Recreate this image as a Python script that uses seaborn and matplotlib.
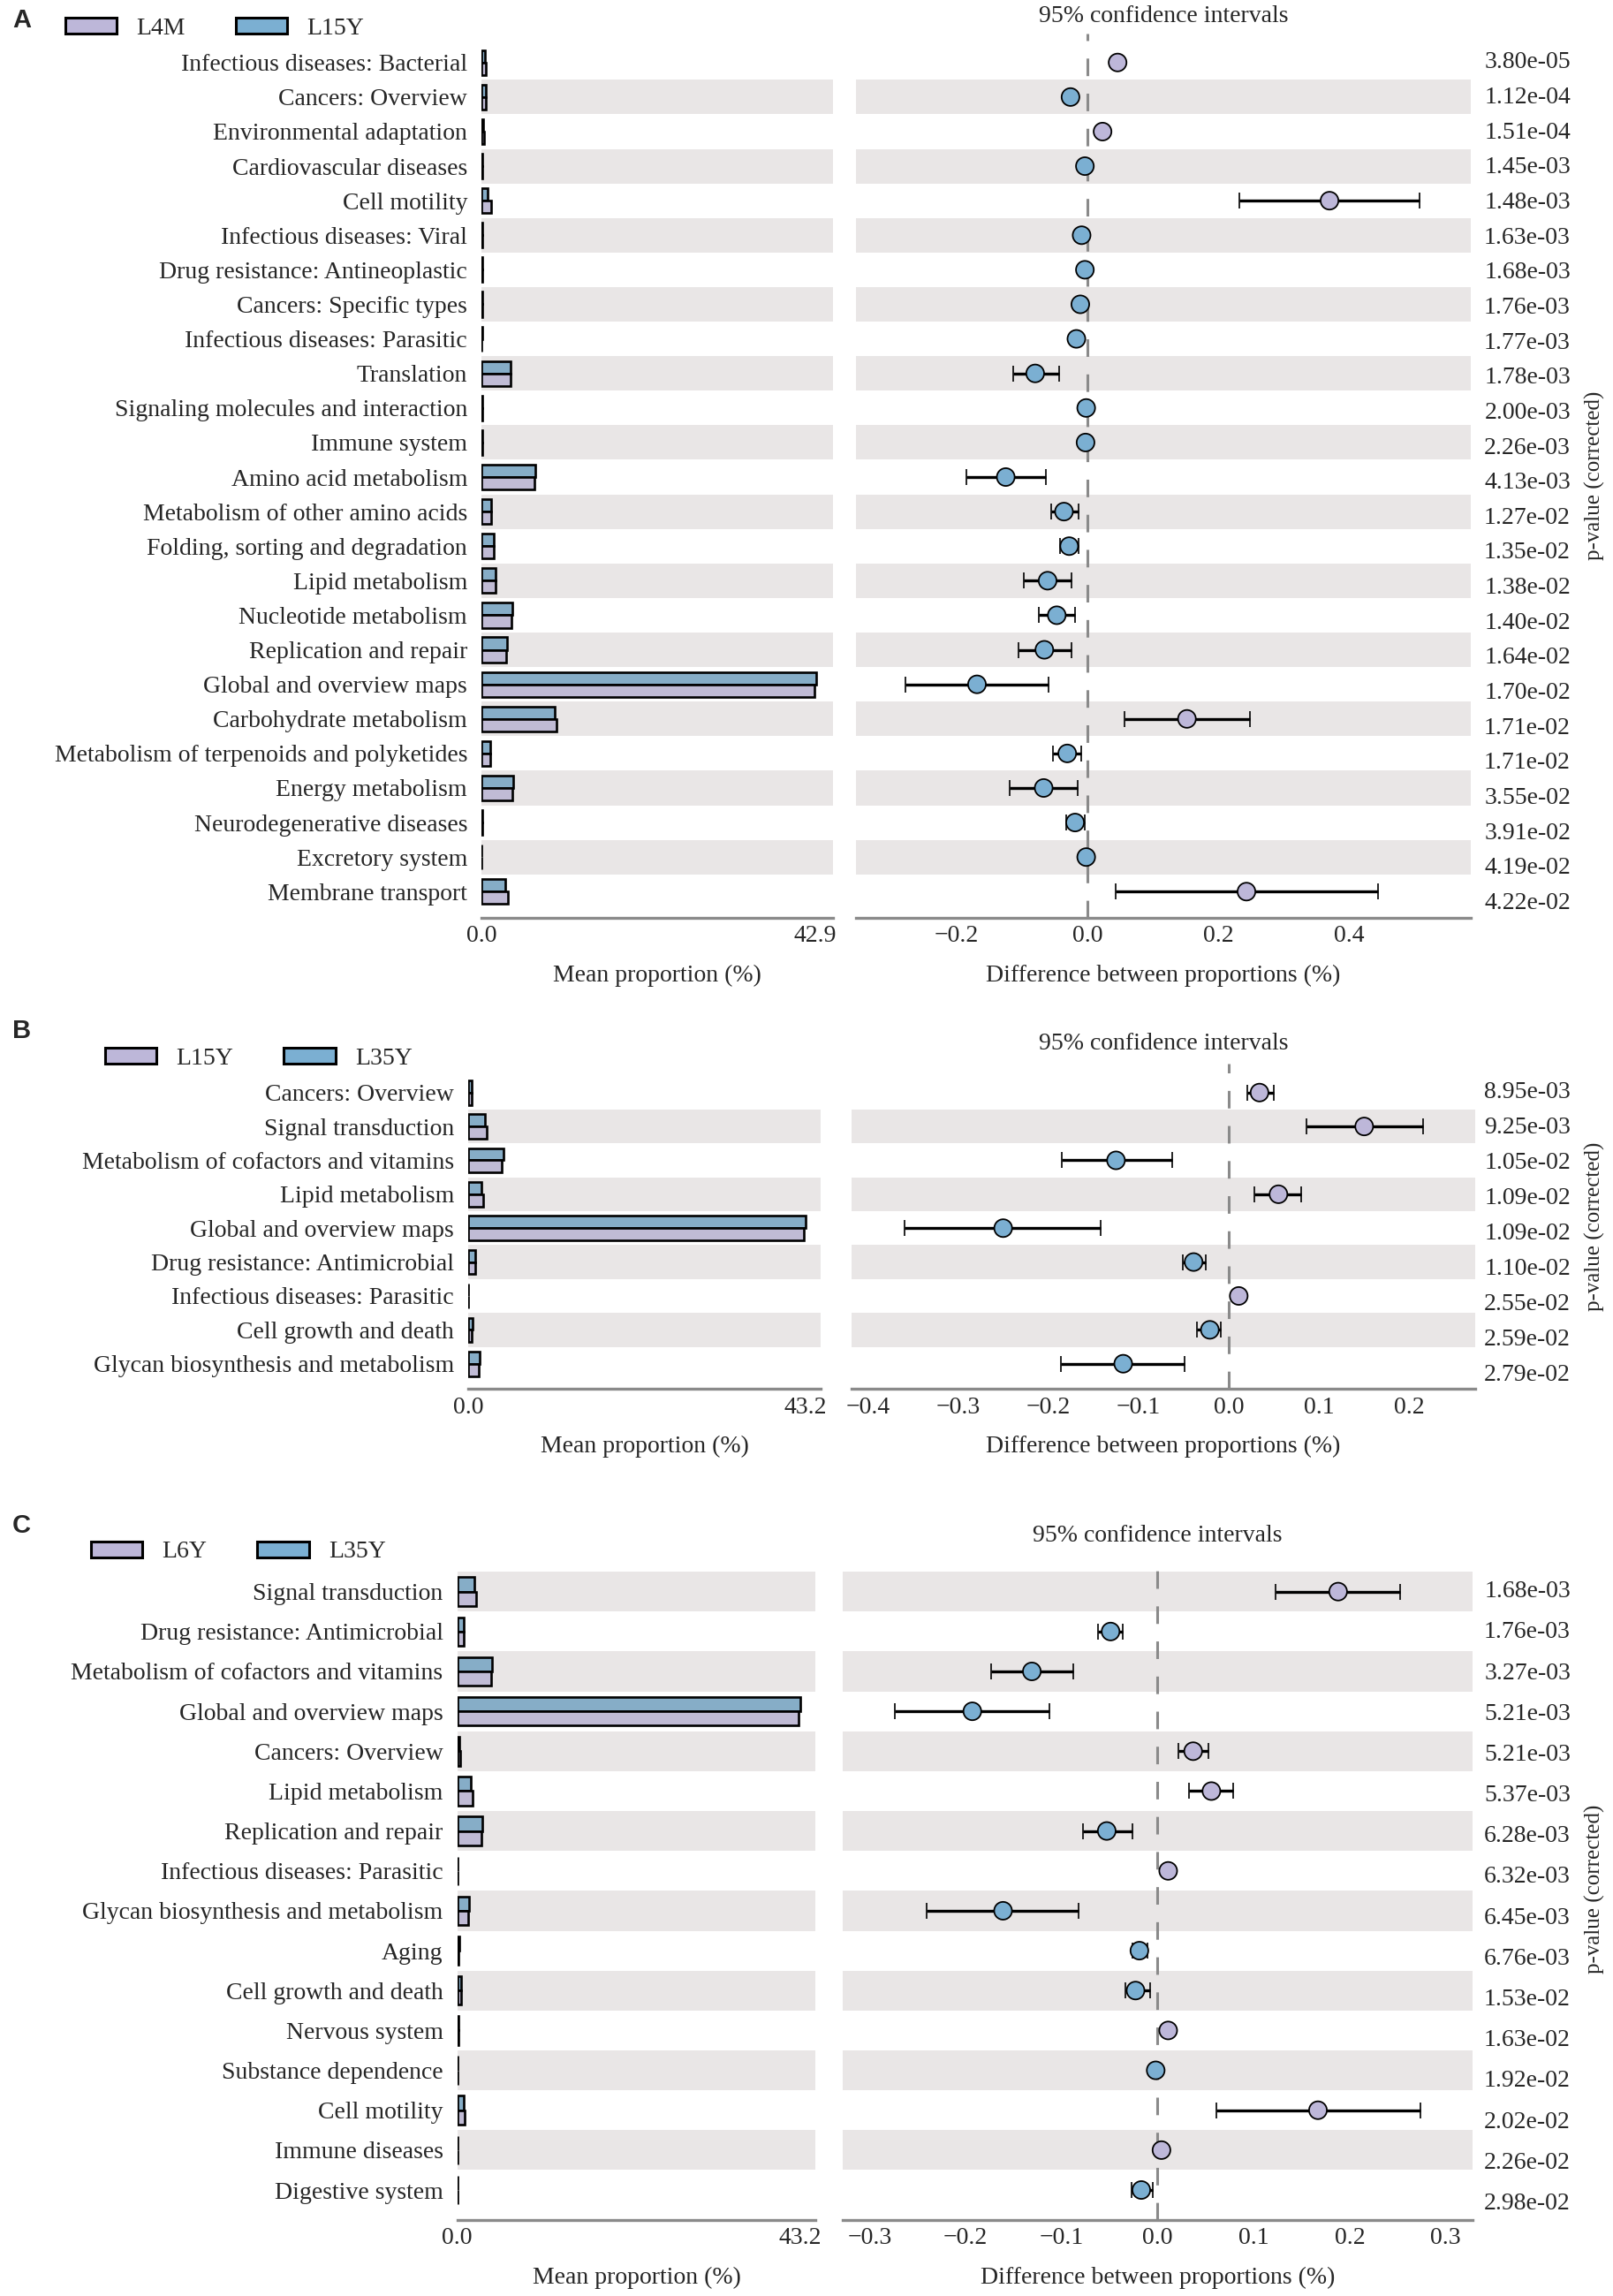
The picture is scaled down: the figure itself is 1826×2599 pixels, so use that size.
import numpy as np
import pandas as pd
import seaborn as sns
import matplotlib.pyplot as plt
from matplotlib.patches import Patch
from matplotlib.transforms import blended_transform_factory

sns.set_style("white")
plt.rcParams['font.family'] = ['Liberation Serif', 'DejaVu Serif']

PURPLE = "#bdb7d9"
BLUE = "#7bafd2"
BAND = "#e9e6e6"
AXGRAY = "#8a8a8a"
FS = 20

# ---------------- data ----------------
# Panel A: L4M vs L15Y
A_groups = ["L4M", "L15Y"]
A_paths = ["Infectious diseases: Bacterial", "Cancers: Overview", "Environmental adaptation",
           "Cardiovascular diseases", "Cell motility", "Infectious diseases: Viral",
           "Drug resistance: Antineoplastic", "Cancers: Specific types",
           "Infectious diseases: Parasitic", "Translation", "Signaling molecules and interaction",
           "Immune system", "Amino acid metabolism", "Metabolism of other amino acids",
           "Folding, sorting and degradation", "Lipid metabolism", "Nucleotide metabolism",
           "Replication and repair", "Global and overview maps", "Carbohydrate metabolism",
           "Metabolism of terpenoids and polyketides", "Energy metabolism",
           "Neurodegenerative diseases", "Excretory system", "Membrane transport"]
A_mean1 = [0.55, 0.6, 0.3, 0.12, 1.25, 0.1, 0.1, 0.1, 0.05, 3.75, 0.1, 0.1, 6.8, 1.3,
           1.55, 1.8, 3.9, 3.2, 42.8, 9.6, 1.1, 4.0, 0.1, 0.05, 3.35]
A_mean2 = [0.5, 0.62, 0.28, 0.12, 0.85, 0.11, 0.1, 0.11, 0.07, 3.8, 0.1, 0.1, 6.95, 1.3,
           1.55, 1.85, 3.95, 3.25, 43.0, 9.4, 1.15, 4.05, 0.12, 0.05, 3.1]
A_diff = [0.046, -0.026, 0.023, -0.004, 0.370, -0.009, -0.004, -0.011, -0.017, -0.080,
          -0.002, -0.003, -0.125, -0.036, -0.028, -0.061, -0.047, -0.066, -0.169, 0.152,
          -0.031, -0.067, -0.019, -0.002, 0.243]
A_lo = [0.042, -0.030, 0.020, -0.006, 0.232, -0.011, -0.006, -0.013, -0.019, -0.114,
        -0.003, -0.004, -0.185, -0.056, -0.042, -0.097, -0.074, -0.105, -0.278, 0.056,
        -0.053, -0.119, -0.032, -0.003, 0.043]
A_hi = [0.050, -0.022, 0.026, -0.002, 0.507, -0.007, -0.002, -0.009, -0.015, -0.044,
        -0.001, -0.002, -0.064, -0.013, -0.014, -0.024, -0.019, -0.024, -0.060, 0.249,
        -0.010, -0.015, -0.004, -0.001, 0.444]
A_p = ["3.80e-05", "1.12e-04", "1.51e-04", "1.45e-03", "1.48e-03", "1.63e-03", "1.68e-03",
       "1.76e-03", "1.77e-03", "1.78e-03", "2.00e-03", "2.26e-03", "4.13e-03", "1.27e-02",
       "1.35e-02", "1.38e-02", "1.40e-02", "1.64e-02", "1.70e-02", "1.71e-02", "1.71e-02",
       "3.55e-02", "3.91e-02", "4.19e-02", "4.22e-02"]
A_maxtick = 42.9
A_citicks = [-0.2, 0.0, 0.2, 0.4]

# Panel B: L15Y vs L35Y
B_groups = ["L15Y", "L35Y"]
B_paths = ["Cancers: Overview", "Signal transduction", "Metabolism of cofactors and vitamins",
           "Lipid metabolism", "Global and overview maps", "Drug resistance: Antimicrobial",
           "Infectious diseases: Parasitic", "Cell growth and death",
           "Glycan biosynthesis and metabolism"]
B_mean1 = [0.45, 2.35, 4.35, 1.95, 43.0, 0.9, 0.05, 0.5, 1.4]
B_mean2 = [0.42, 2.15, 4.5, 1.75, 43.3, 0.95, 0.05, 0.52, 1.5]
B_diff = [0.034, 0.150, -0.125, 0.055, -0.250, -0.039, 0.011, -0.021, -0.117]
B_lo = [0.020, 0.086, -0.185, 0.028, -0.359, -0.051, 0.009, -0.035, -0.186]
B_hi = [0.050, 0.215, -0.063, 0.080, -0.142, -0.026, 0.013, -0.009, -0.049]
B_p = ["8.95e-03", "9.25e-03", "1.05e-02", "1.09e-02", "1.09e-02", "1.10e-02", "2.55e-02",
       "2.59e-02", "2.79e-02"]
B_maxtick = 43.2
B_citicks = [-0.4, -0.3, -0.2, -0.1, 0.0, 0.1, 0.2]

# Panel C: L6Y vs L35Y
C_groups = ["L6Y", "L35Y"]
C_paths = ["Signal transduction", "Drug resistance: Antimicrobial",
           "Metabolism of cofactors and vitamins", "Global and overview maps",
           "Cancers: Overview", "Lipid metabolism", "Replication and repair",
           "Infectious diseases: Parasitic", "Glycan biosynthesis and metabolism", "Aging",
           "Cell growth and death", "Nervous system", "Substance dependence", "Cell motility",
           "Immune diseases", "Digestive system"]
C_mean1 = [2.35, 0.8, 4.3, 43.05, 0.35, 1.9, 3.1, 0.05, 1.4, 0.22, 0.48, 0.15, 0.05, 1.0,
           0.06, 0.05]
C_mean2 = [2.15, 0.85, 4.45, 43.25, 0.32, 1.75, 3.2, 0.04, 1.55, 0.24, 0.5, 0.14, 0.05, 0.85,
           0.05, 0.06]
C_diff = [0.188, -0.049, -0.131, -0.193, 0.037, 0.056, -0.053, 0.011, -0.161, -0.019, -0.023,
          0.011, -0.002, 0.167, 0.004, -0.017]
C_lo = [0.123, -0.062, -0.173, -0.274, 0.022, 0.033, -0.078, 0.009, -0.241, -0.026, -0.034,
        0.009, -0.003, 0.061, 0.003, -0.027]
C_hi = [0.253, -0.036, -0.088, -0.113, 0.053, 0.079, -0.026, 0.013, -0.082, -0.011, -0.008,
        0.013, -0.001, 0.274, 0.005, -0.005]
C_p = ["1.68e-03", "1.76e-03", "3.27e-03", "5.21e-03", "5.21e-03", "5.37e-03", "6.28e-03",
       "6.32e-03", "6.45e-03", "6.76e-03", "1.53e-02", "1.63e-02", "1.92e-02", "2.02e-02",
       "2.26e-02", "2.98e-02"]
C_maxtick = 43.2
C_citicks = [-0.3, -0.2, -0.1, 0.0, 0.1, 0.2, 0.3]

fig = plt.figure(figsize=(18.26, 25.99), dpi=100)


def style_bottom(ax):
    for s in ["top", "right", "left"]:
        ax.spines[s].set_visible(False)
    ax.spines["bottom"].set_color(AXGRAY)
    ax.spines["bottom"].set_linewidth(2.4)
    ax.tick_params(axis="x", direction="in", length=7, width=1, color=AXGRAY,
                   labelsize=FS, pad=6)


def draw_panel(letter, groups, paths, m1, m2, diff, lo, hi, pvals, maxtick, citicks,
               bar_rect, ci_rect, cilim, ytop_letter, y_legend, x_legend, y_title):
    n = len(paths)
    ylim = (n - 1 + 0.75, -0.85)
    bands = [i for i in range(n) if (n - 1 - i) % 2 == 1]

    # ---- mean proportion bars ----
    axb = fig.add_axes(bar_rect)
    for i in bands:
        axb.axhspan(i - 0.5, i + 0.5, color=BAND, lw=0, zorder=0)
    df = pd.DataFrame({"pathway": paths * 2,
                       "group": [groups[0]] * n + [groups[1]] * n,
                       "value": list(m1) + list(m2)})
    sns.barplot(data=df, y="pathway", x="value", hue="group", order=paths,
                hue_order=[groups[1], groups[0]],
                palette={groups[0]: PURPLE, groups[1]: BLUE},
                width=0.72, edgecolor="black", linewidth=1.9, errorbar=None,
                legend=False, ax=axb, zorder=2)
    axb.set_xlim(0, 45.2)
    axb.set_ylim(*ylim)
    axb.set_xticks([0, maxtick])
    axb.set_xticklabels(["0.0", f"{maxtick:.1f}"])
    axb.set_ylabel("")
    axb.set_xlabel("Mean proportion (%)", fontsize=FS, labelpad=14)
    axb.tick_params(axis="y", length=0, labelsize=FS, pad=11.5)
    style_bottom(axb)

    # ---- confidence intervals ----
    axc = fig.add_axes(ci_rect)
    for i in bands:
        axc.axhspan(i - 0.5, i + 0.5, color=BAND, lw=0, zorder=0)
    axc.axvline(0, color=AXGRAY, lw=2.2, ls=(0, (6.5, 6.5)), zorder=1)
    diff = np.array(diff)
    pos = np.arange(n)
    axc.errorbar(diff, pos, xerr=[diff - np.array(lo), np.array(hi) - diff], fmt="none",
                 ecolor="black", elinewidth=2.4, capsize=6.5, capthick=1.2, zorder=2)
    cdf = pd.DataFrame({"diff": diff, "pos": pos,
                        "winner": [groups[0] if d > 0 else groups[1] for d in diff]})
    sns.scatterplot(data=cdf, x="diff", y="pos", hue="winner",
                    palette={groups[0]: PURPLE, groups[1]: BLUE}, s=210,
                    edgecolor="black", linewidth=1.3, legend=False, ax=axc, zorder=3)
    axc.set_xlim(*cilim)
    axc.set_ylim(*ylim)
    axc.set_yticks([])
    axc.set_ylabel("")
    axc.set_xticks(citicks)
    axc.set_xlabel("Difference between proportions (%)", fontsize=FS, labelpad=14)
    style_bottom(axc)

    # p-values column
    trans = blended_transform_factory(fig.transFigure, axc.transData)
    for i, p in enumerate(pvals):
        axc.text(0.9737, i + 0.34 * i / (n - 1), p, transform=trans, ha="right",
                 va="center", fontsize=FS, clip_on=False)
    yc = ci_rect[1] + ci_rect[3] / 2
    fig.text(0.989, yc, "p-value (corrected)", rotation=90, ha="center", va="center",
             fontsize=18)

    fig.text(ci_rect[0] + ci_rect[2] / 2, y_title, "95% confidence intervals",
             ha="center", va="center", fontsize=FS)
    fig.text(0.0077, ytop_letter, letter, ha="left", va="center", fontsize=21,
             fontweight="bold", family=["Liberation Sans", "DejaVu Sans"])
    handles = [Patch(facecolor=PURPLE, edgecolor="black", lw=2.2),
               Patch(facecolor=BLUE, edgecolor="black", lw=2.2)]
    fig.legend(handles=handles, labels=groups, loc="center left",
               bbox_to_anchor=(x_legend, y_legend), ncol=2, frameon=False,
               handlelength=2.1, handleheight=0.63, handletextpad=0.8,
               columnspacing=2.05, borderpad=0, borderaxespad=0, fontsize=FS)


draw_panel("A", A_groups, A_paths, A_mean1, A_mean2, A_diff, A_lo, A_hi, A_p, A_maxtick,
           A_citicks, [0.29847, 0.60038, 0.21796, 0.38519],
           [0.53067, 0.60038, 0.38116, 0.38519], (-0.354, 0.586),
           0.99115, 0.98750, 0.0405, 0.99307)
draw_panel("B", B_groups, B_paths, B_mean1, B_mean2, B_diff, B_lo, B_hi, B_p, B_maxtick,
           B_citicks, [0.29025, 0.39497, 0.21851, 0.14172],
           [0.52793, 0.39497, 0.38664, 0.14172], (-0.418, 0.273),
           0.5510, 0.53886, 0.0652, 0.54525)
draw_panel("C", C_groups, C_paths, C_mean1, C_mean2, C_diff, C_lo, C_hi, C_p, C_maxtick,
           C_citicks, [0.28341, 0.03313, 0.22229, 0.28842],
           [0.52245, 0.03313, 0.39047, 0.28842], (-0.328, 0.328),
           0.33551, 0.3240, 0.0564, 0.33090)

fig.savefig("out.png", dpi=100, facecolor="white")
